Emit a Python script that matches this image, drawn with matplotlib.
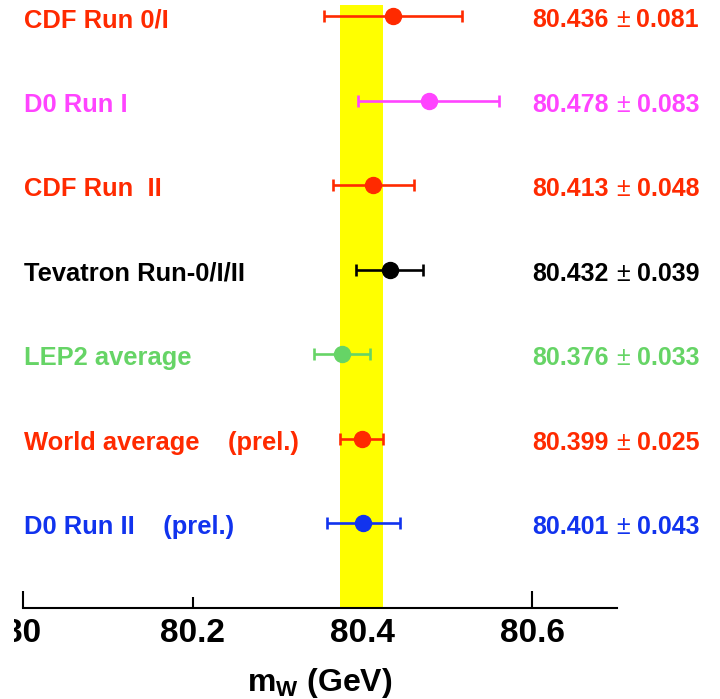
import matplotlib
matplotlib.use("Agg")
import matplotlib.pyplot as plt
from matplotlib.transforms import blended_transform_factory, Bbox, IdentityTransform, TransformedBbox

# ---- data ----
labels = ["CDF Run 0/I", "D0 Run I", "CDF Run  II", "Tevatron Run-0/I/II",
          "LEP2 average", "World average    (prel.)", "D0 Run II    (prel.)"]
masses = [80.436, 80.478, 80.413, 80.432, 80.376, 80.399, 80.401]
errors = [0.081, 0.083, 0.048, 0.039, 0.033, 0.025, 0.043]
colors = ["#FF2A00", "#FF44FF", "#FF2A00", "#000000", "#66D466", "#FF2A00", "#1133EE"]
rows = [7, 6, 5, 4, 3, 2, 1]
band_center = 80.399
band_half = 0.025
xticks = [80.0, 80.2, 80.4, 80.6]
xticklabels = ["80", "80.2", "80.4", "80.6"]

plt.rcParams['font.family'] = ['Liberation Sans', 'DejaVu Sans']
plt.rcParams['font.weight'] = 'bold'
plt.rcParams['mathtext.fontset'] = 'custom'
plt.rcParams['mathtext.bf'] = 'Liberation Sans:bold'
plt.rcParams['mathtext.rm'] = 'Liberation Sans:bold'
plt.rcParams['mathtext.it'] = 'Liberation Sans:bold'

W, H = 720, 699
fig = plt.figure(figsize=(7.2, 6.99), dpi=100)
ax = fig.add_axes([23 / W, (H - 608) / H, 594 / W, 608 / H])
ax.set_xlim(80.0, 80.7)
ax.set_ylim(0, 7.195)

# yellow band
ax.fill_betweenx([0, 7.136], band_center - band_half, band_center + band_half,
                 color="#FFFF00", lw=0, zorder=1)

for y, m, e, c in zip(rows, masses, errors, colors):
    ax.errorbar(m, y, xerr=e, fmt='o', color=c, ms=11.5, elinewidth=1.9,
                capsize=4.3, capthick=1.9, zorder=3)

# texts
trans = blended_transform_factory(fig.transFigure, ax.transData)
off = 11 / 84.5
for y, lab, m, e, c in zip(rows, labels, masses, errors, colors):
    ax.text(24 / W, y - off, lab, transform=trans, ha='left', va='baseline',
            fontsize=18.4, fontweight='bold', color=c)
    ax.text(609 / W, y - off, f"{m:.3f}", transform=trans, ha='right', va='baseline',
            fontsize=18, fontweight='bold', color=c)
    ax.text(623 / W, y - off, "\u00b1", transform=trans, ha='center', va='baseline',
            fontsize=18, fontweight='normal', color=c)
    ax.text(699 / W, y - off, f"{e:.3f}", transform=trans, ha='right', va='baseline',
            fontsize=18, fontweight='bold', color=c)

# axes styling
for s in ['top', 'left', 'right']:
    ax.spines[s].set_visible(False)
ax.spines['bottom'].set_linewidth(1.5)
ax.set_yticks([])
ax.set_xticks(xticks)
ax.set_xticklabels(xticklabels, fontsize=24, fontweight='bold')
ax.tick_params(axis='x', direction='in', length=12, width=1.5, pad=7)
ticks = ax.xaxis.get_major_ticks()
ticks[1].tick1line.set_markersize(8)
ticks[2].tick1line.set_visible(False)

# clip the first tick label like the reference
lbl0 = ax.get_xticklabels()[0]
lbl0.set_clip_on(True)
lbl0.set_clip_box(TransformedBbox(Bbox([[14, 0], [W, H]]), IdentityTransform()))

fig.text(320 / W, 1 - 683 / H, r"$\mathbf{m}_{\mathbf{W}}$ (GeV)", ha='center', va='center',
         fontsize=23, fontweight='bold')

fig.savefig("out.png", dpi=100)
